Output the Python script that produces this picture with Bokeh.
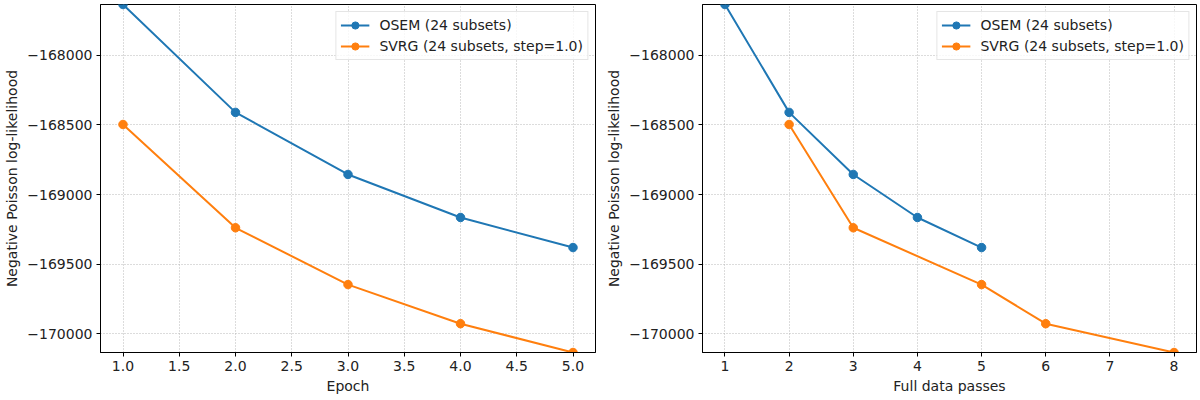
from bokeh.plotting import figure
from bokeh.layouts import row
from bokeh.models import (Range1d, FixedTicker, CustomJSTickFormatter, Legend, LegendItem)
from bokeh.embed import file_html
from bokeh.resources import INLINE

epochs = [1, 2, 3, 4, 5]
osem_nll = [-167635, -168410, -168856, -169165, -169381]
svrg_nll = [-168497, -169239, -169647, -169928, -170135]
osem_passes = [1, 2, 3, 4, 5]
svrg_passes = [2, 3, 5, 6, 8]

left_xticks = [1.0, 1.5, 2.0, 2.5, 3.0, 3.5, 4.0, 4.5, 5.0]
right_xticks = [1, 2, 3, 4, 5, 6, 7, 8]
yticks = [-170000, -169500, -169000, -168500, -168000]

osem_label = "OSEM (24 subsets)"
svrg_label = "SVRG (24 subsets, step=1.0)"
xlabel_left = "Epoch"
xlabel_right = "Full data passes"
ylabel = "Negative Poisson log-likelihood"

BLUE = "#1f77b4"
ORANGE = "#ff7f0e"
FONT = "DejaVu Sans"
FS = "14px"

ymin = min(osem_nll + svrg_nll)
ymax = max(osem_nll + svrg_nll)


def make(xo, xs, xr, xticks, xfmt, xlabel, bl, br, width):
    p = figure(width=width, height=400, output_backend="svg", toolbar_location=None,
               x_range=Range1d(*xr), y_range=Range1d(ymin, ymax),
               min_border_left=bl, min_border_right=br, min_border_top=4, min_border_bottom=48)
    p.background_fill_color = "white"
    p.border_fill_color = "white"
    p.outline_line_color = "black"
    p.outline_line_width = 1
    p.outline_line_alpha = 1

    r1l = p.line(xo, osem_nll, line_color=BLUE, line_width=2)
    r1s = p.scatter(xo, osem_nll, size=8.5, fill_color=BLUE, line_color=BLUE)
    r2l = p.line(xs, svrg_nll, line_color=ORANGE, line_width=2)
    r2s = p.scatter(xs, svrg_nll, size=8.5, fill_color=ORANGE, line_color=ORANGE)

    p.xaxis.ticker = FixedTicker(ticks=xticks)
    p.yaxis.ticker = FixedTicker(ticks=yticks)
    p.xaxis.formatter = CustomJSTickFormatter(code=xfmt)
    p.yaxis.formatter = CustomJSTickFormatter(code="return tick.toFixed(0).replace('-', '\\u2212');")
    for ax in (p.xaxis[0], p.yaxis[0]):
        ax.major_tick_in = 0
        ax.major_tick_out = 4
        ax.minor_tick_line_color = None
        ax.axis_line_color = "black"
        ax.major_tick_line_color = "black"
        ax.major_label_text_font = FONT
        ax.major_label_text_font_size = FS
        ax.major_label_text_color = "#222222"
        ax.axis_label_text_font = FONT
        ax.axis_label_text_font_size = FS
        ax.axis_label_text_font_style = "normal"
        ax.axis_label_text_color = "#222222"
        ax.major_label_standoff = 4
        ax.axis_label_standoff = 4
    p.xaxis.axis_label = xlabel
    p.yaxis.axis_label = ylabel

    for g in (p.xgrid[0], p.ygrid[0]):
        g.grid_line_color = "#b0b0b0"
        g.grid_line_dash = "1 2"
        g.grid_line_width = 0.9

    leg = Legend(items=[LegendItem(label=osem_label, renderers=[r1l, r1s]),
                        LegendItem(label=svrg_label, renderers=[r2l, r2s])],
                 location="top_right")
    leg.label_text_font = FONT
    leg.label_text_font_size = FS
    leg.label_text_color = "#222222"
    leg.border_line_color = "#cccccc"
    leg.border_line_width = 1
    leg.background_fill_alpha = 0.8
    leg.glyph_width = 29
    leg.glyph_height = 18
    leg.label_height = 18
    leg.spacing = 3
    leg.padding = 4
    leg.margin = 7
    leg.label_standoff = 10
    p.add_layout(leg)
    return p


p1 = make(epochs, epochs, (0.8, 5.2), left_xticks, "return tick.toFixed(1);", xlabel_left, 100, 5, 600)
p2 = make(osem_passes, svrg_passes, (0.65, 8.35), right_xticks, "return tick.toFixed(0);", xlabel_right, 102, 4, 600)

layout = row(p1, p2, spacing=0)
open("out.html", "w").write(file_html(layout, INLINE))
